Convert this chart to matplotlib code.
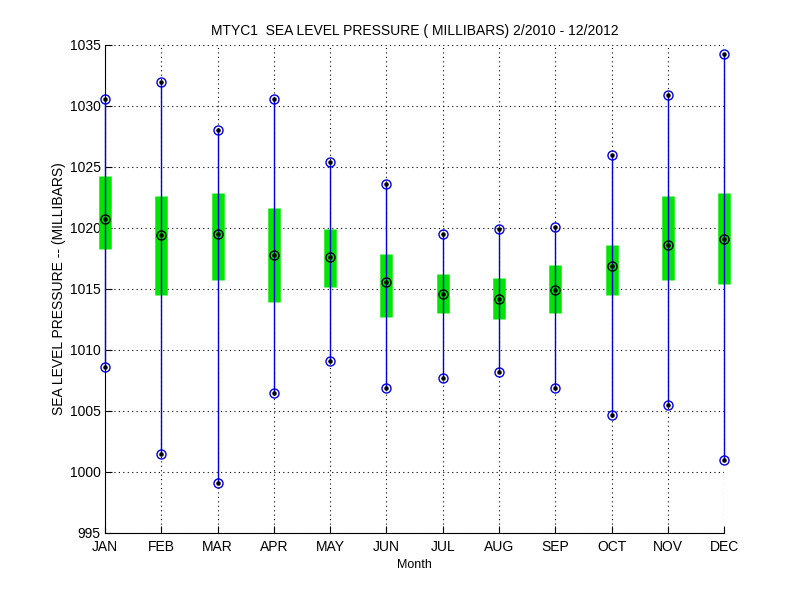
import numpy as np
import matplotlib.pyplot as plt

months = ["JAN", "FEB", "MAR", "APR", "MAY", "JUN",
          "JUL", "AUG", "SEP", "OCT", "NOV", "DEC"]
p_max = [1030.6, 1032.0, 1028.0, 1030.6, 1025.4, 1023.6,
         1019.5, 1019.9, 1020.1, 1026.0, 1030.9, 1034.3]
p_min = [1008.6, 1001.5, 999.1, 1006.5, 1009.1, 1006.9,
         1007.7, 1008.2, 1006.9, 1004.7, 1005.5, 1001.0]
box_top = [1024.3, 1022.6, 1022.9, 1021.6, 1019.9, 1017.9,
           1016.2, 1015.9, 1017.0, 1018.6, 1022.6, 1022.9]
box_bot = [1018.3, 1014.5, 1015.7, 1013.9, 1015.2, 1012.7,
           1013.0, 1012.5, 1013.0, 1014.5, 1015.7, 1015.4]
median = [1020.7, 1019.4, 1019.5, 1017.8, 1017.6, 1015.6,
          1014.6, 1014.2, 1014.9, 1016.9, 1018.6, 1019.1]

plt.rcParams['font.family'] = ['Liberation Sans', 'DejaVu Sans']

fig = plt.figure(figsize=(8, 6), dpi=100)
ax = fig.add_axes([0.13125, 0.1117, 0.774, 0.8133])

x = np.arange(1, 13)
blue = '#0000dd'

# green boxes, then whiskers on top
ax.vlines(x, box_bot, box_top, color='#00e600', linewidth=9, zorder=3, clip_on=False)
ax.vlines(x, p_min, p_max, color=blue, linewidth=1.0, zorder=4, clip_on=False)

# min / max markers
for vals in (p_max, p_min):
    ax.plot(x, vals, 'o', mfc='none', mec=blue, ms=6.5, mew=1.0, zorder=5, clip_on=False)
    ax.plot(x, vals, '.', color='k', ms=4.5, zorder=6, clip_on=False)
# medians
ax.plot(x, median, 'o', mfc='none', mec='k', ms=6.5, mew=1.0, zorder=5, clip_on=False)
ax.plot(x, median, '.', color='k', ms=4.5, zorder=6, clip_on=False)

ax.set_xlim(1, 12)
ax.set_ylim(995, 1035)
ax.set_xticks(x)
ax.set_xticklabels(months)
ax.set_yticks(np.arange(995, 1036, 5))

ax.grid(True, color='k', linestyle=(0, (1, 3)), linewidth=0.8)
ax.set_axisbelow(True)
for side in ('top', 'right'):
    ax.spines[side].set_visible(False)
ax.tick_params(direction='in', length=5, labelsize=10)
ax.tick_params(axis='x', pad=5)
ax.tick_params(axis='y', pad=3)

ax.set_title("MTYC1  SEA LEVEL PRESSURE ( MILLIBARS) 2/2010 - 12/2012", fontsize=10, pad=7)
ax.set_xlabel("Month", fontsize=9, labelpad=4)
ax.set_ylabel("SEA LEVEL PRESSURE -- (MILLIBARS)", fontsize=10, labelpad=3)

fig.savefig("out.png", dpi=100)
